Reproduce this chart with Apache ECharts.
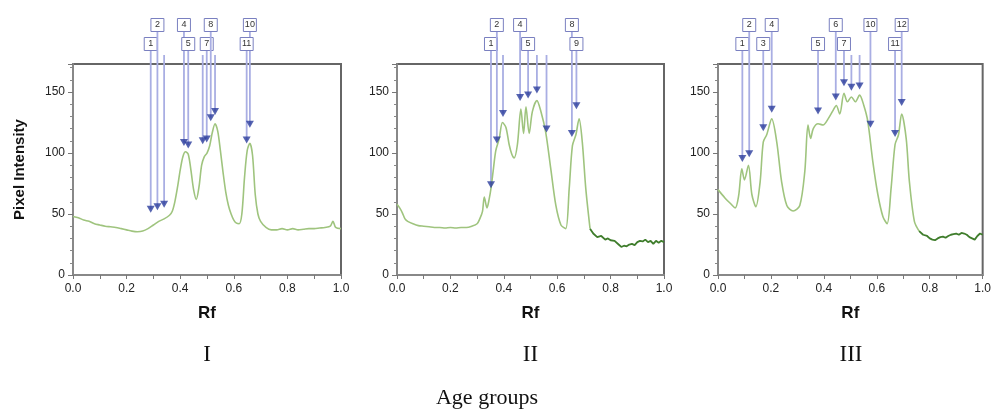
<!DOCTYPE html>
<html>
<head>
<meta charset="utf-8">
<script src="https://cdn.jsdelivr.net/npm/echarts@6/dist/echarts.min.js"></script>
<style>
  html, body { margin: 0; padding: 0; background: #fff; }
  #chart { width: 994px; height: 410px; }
</style>
</head>
<body>
<div id="chart"></div>
<script>
// densitometry profiles
const rfI = [0, 0.02, 0.04, 0.06, 0.08, 0.10, 0.12, 0.14, 0.16, 0.18, 0.20, 0.22, 0.24, 0.26, 0.28, 0.30, 0.32, 0.34, 0.36, 0.37, 0.38, 0.39, 0.40, 0.41, 0.42, 0.43, 0.44, 0.45, 0.46, 0.47, 0.48, 0.49, 0.50, 0.51, 0.52, 0.53, 0.54, 0.55, 0.56, 0.57, 0.58, 0.59, 0.60, 0.61, 0.62, 0.63, 0.64, 0.65, 0.66, 0.67, 0.68, 0.69, 0.70, 0.72, 0.74, 0.76, 0.78, 0.80, 0.82, 0.84, 0.86, 0.88, 0.90, 0.92, 0.94, 0.96, 0.97, 0.98, 1.0];
const pixI = [48, 47, 45, 44, 42, 41, 40, 39.5, 39, 38, 37, 36, 35.5, 36, 38, 41, 44, 46, 49, 52, 60, 72, 86, 97, 101, 99, 86, 70, 62, 72, 90, 97, 100, 106, 117, 124, 118, 102, 84, 68, 57, 50, 45, 42.5, 42, 50, 80, 102, 108, 98, 66, 50, 44, 39, 37, 37, 38, 37, 38, 37, 37.5, 38, 38, 38.5, 39, 40, 44, 39, 38];

const rfII = [0, 0.01, 0.02, 0.03, 0.04, 0.06, 0.08, 0.10, 0.12, 0.14, 0.16, 0.18, 0.20, 0.22, 0.24, 0.26, 0.28, 0.30, 0.31, 0.32, 0.327, 0.337, 0.345, 0.352, 0.36, 0.37, 0.383, 0.395, 0.408, 0.42, 0.43, 0.439, 0.451, 0.464, 0.474, 0.483, 0.495, 0.507, 0.524, 0.539, 0.557, 0.576, 0.595, 0.614, 0.632, 0.645, 0.657, 0.67, 0.682, 0.694, 0.707, 0.723];
const pixII = [58, 55, 51, 46, 44, 42, 40.5, 40, 39.5, 39, 39, 38.5, 39, 38.5, 39, 39, 40, 42, 46, 52, 64, 55, 62, 71, 85, 102, 112, 125, 121, 107, 99, 96, 107, 136, 116, 138, 116, 134, 143, 134, 117, 87, 57, 41, 38, 71, 106, 115, 128, 109, 71, 38];
const rfTailII = [0.723, 0.735, 0.75, 0.765, 0.78, 0.79, 0.80, 0.815, 0.83, 0.84, 0.85, 0.86, 0.87, 0.88, 0.89, 0.90, 0.91, 0.92, 0.93, 0.94, 0.95, 0.96, 0.97, 0.98, 0.99, 1.0];
const pixTailII = [38, 34, 31, 32, 29, 30, 28.5, 28, 25, 23, 24, 23.5, 25, 25.5, 24.5, 27, 28, 27.5, 29, 27, 28, 25.5, 28, 26.5, 28, 27];

const rfIII = [0, 0.027, 0.05, 0.065, 0.078, 0.09, 0.1, 0.115, 0.128, 0.143, 0.159, 0.171, 0.184, 0.203, 0.222, 0.24, 0.26, 0.284, 0.309, 0.328, 0.34, 0.35, 0.36, 0.378, 0.397, 0.416, 0.435, 0.447, 0.46, 0.476, 0.489, 0.504, 0.519, 0.535, 0.551, 0.566, 0.585, 0.604, 0.623, 0.639, 0.654, 0.669, 0.682, 0.694, 0.711, 0.723, 0.742, 0.76];
const pixIII = [70, 63, 58, 55, 65, 87, 78, 90, 66, 56, 76, 109, 115, 128, 109, 77, 57, 52.5, 57, 85, 123, 112, 120, 124, 123, 128, 135, 139, 132, 149, 142, 146, 142, 147.5, 139, 126, 93, 66, 48, 42, 71, 107, 115, 132, 112, 77, 44, 36];
const rfTailIII = [0.76, 0.775, 0.79, 0.80, 0.81, 0.82, 0.83, 0.84, 0.85, 0.86, 0.87, 0.88, 0.89, 0.90, 0.91, 0.92, 0.93, 0.94, 0.95, 0.96, 0.97, 0.98, 0.99, 1.0];
const pixTailIII = [36, 33, 32, 30, 29, 28.5, 30, 31, 31.5, 30.5, 32, 33, 33.5, 34, 33, 34.5, 34, 33, 31, 30, 29, 32, 34, 33];

// detected bands: Rf, intensity, label row (1 top, 2 lower, 0 hidden)
const bandRfI = [0.29, 0.315, 0.34, 0.414, 0.43, 0.484, 0.499, 0.514, 0.53, 0.66, 0.648];
const bandPixI = [54, 56, 58, 108.7, 106.6, 110, 111.5, 129, 134, 123.5, 110.6];
const bandRowI = [2, 1, 0, 1, 2, 0, 2, 1, 0, 1, 2];

const bandRfII = [0.352, 0.374, 0.397, 0.461, 0.491, 0.524, 0.56, 0.655, 0.672];
const bandPixII = [74, 110.6, 132.5, 145.6, 147.5, 151.6, 119.7, 116, 138.8];
const bandRowII = [2, 1, 0, 1, 2, 0, 0, 1, 2];

const bandRfIII = [0.092, 0.118, 0.171, 0.203, 0.378, 0.445, 0.476, 0.504, 0.535, 0.576, 0.669, 0.694];
const bandPixIII = [95.6, 99.4, 120.8, 136, 134.4, 145.9, 157.6, 154, 155, 123.5, 116, 141.5];
const bandRowIII = [2, 1, 2, 1, 2, 1, 2, 0, 0, 1, 2, 1];

const xTicks = [0, 0.2, 0.4, 0.6, 0.8, 1.0];
const yTicks = [0, 50, 100, 150];
const groups = ["I", "II", "III"];

const zip = (a, b) => a.map((v, i) => [v, b[i]]);
const SANS = "Liberation Sans, Arial, sans-serif";
const SERIF = "Liberation Serif, Times New Roman, serif";

const chart = echarts.init(document.getElementById("chart"));

const gridLefts = [73, 397, 718];
const gridWidths = [268, 267, 266];

const profiles = [
  { main: zip(rfI, pixI), tail: null, rf: bandRfI, pix: bandPixI, row: bandRowI },
  { main: zip(rfII, pixII), tail: zip(rfTailII, pixTailII), rf: bandRfII, pix: bandPixII, row: bandRowII },
  { main: zip(rfIII, pixIII), tail: zip(rfTailIII, pixTailIII), rf: bandRfIII, pix: bandPixIII, row: bandRowIII }
];

// vertical lead line + numbered box for each band
function renderBand(params, api) {
  const p = api.coord([api.value(0), api.value(1)]);
  const row = api.value(2);
  const num = api.value(3);
  const y0 = row === 1 ? 32 : row === 2 ? 51 : 55;
  const kids = [
    {
      type: "line",
      shape: { x1: p[0], y1: y0, x2: p[0], y2: p[1] },
      style: { stroke: "#a9aee3", lineWidth: 1.8 }
    }
  ];
  if (row) {
    const cy = row === 1 ? 25 : 44;
    kids.push({
      type: "rect",
      shape: { x: p[0] - 6.5, y: cy - 6.5, width: 13, height: 13 },
      style: { fill: "#fff", stroke: "#7a80c0", lineWidth: 1 }
    });
    kids.push({
      type: "text",
      style: {
        text: String(num), x: p[0], y: cy, align: "center", verticalAlign: "middle",
        fontSize: 9, fontFamily: SANS, fill: "#333"
      }
    });
  }
  return { type: "group", children: kids };
}

const grids = [], xAxes = [], yAxes = [], series = [];
profiles.forEach((pr, i) => {
  grids.push({
    left: gridLefts[i], width: gridWidths[i], top: 64, height: 211,
    show: true, borderColor: "#666", borderWidth: 2, backgroundColor: "transparent"
  });
  xAxes.push({
    type: "value", gridIndex: i, min: 0, max: 1, interval: 0.2,
    name: "Rf", nameLocation: "middle", nameGap: 30,
    nameTextStyle: { fontFamily: SANS, fontWeight: "bold", fontSize: 17, color: "#111" },
    axisLine: { show: true, lineStyle: { color: "#888", width: 2 } },
    axisTick: { show: true, length: 4, lineStyle: { color: "#777" } },
    minorTick: { show: true, splitNumber: 2, length: 4, lineStyle: { color: "#777" } },
    splitLine: { show: false },
    axisLabel: {
      fontFamily: SANS, fontSize: 12, color: "#222", margin: 8,
      formatter: v => (xTicks.indexOf(+v.toFixed(1)) >= 0 ? v.toFixed(1) : "")
    }
  });
  yAxes.push({
    type: "value", gridIndex: i, min: 0, max: 173, interval: 50,
    name: i === 0 ? "Pixel Intensity" : "", nameLocation: "middle", nameGap: 46,
    nameTextStyle: { fontFamily: SANS, fontWeight: "bold", fontSize: 15, color: "#111" },
    axisLine: { show: true, lineStyle: { color: "#888", width: 2 } },
    axisTick: { show: true, length: 5, lineStyle: { color: "#777" } },
    minorTick: { show: true, splitNumber: 5, length: 3, lineStyle: { color: "#888" } },
    splitLine: { show: false },
    axisLabel: {
      fontFamily: SANS, fontSize: 12, color: "#222", margin: 8,
      formatter: v => (yTicks.indexOf(v) >= 0 ? String(v) : "")
    }
  });
  series.push({
    type: "line", xAxisIndex: i, yAxisIndex: i, data: pr.main,
    showSymbol: false, smooth: 0.3,
    lineStyle: { color: "#9fc47e", width: 1.6 }
  });
  if (pr.tail) {
    series.push({
      type: "line", xAxisIndex: i, yAxisIndex: i, data: pr.tail,
      showSymbol: false,
      lineStyle: { color: "#3f7d2c", width: 1.8 }
    });
  }
  series.push({
    type: "custom", xAxisIndex: i, yAxisIndex: i, clip: false, z: 3,
    renderItem: renderBand,
    data: pr.rf.map((r, k) => [r, pr.pix[k], pr.row[k], k + 1])
  });
  series.push({
    type: "scatter", xAxisIndex: i, yAxisIndex: i, z: 4,
    symbol: "triangle", symbolRotate: 180, symbolSize: [8, 7],
    itemStyle: { color: "#2b3c9c" },
    data: zip(pr.rf, pr.pix)
  });
});

const option = {
  backgroundColor: "#fff",
  animation: false,
  grid: grids,
  xAxis: xAxes,
  yAxis: yAxes,
  series: series,
  graphic: [
    ...groups.map((g, i) => ({
      type: "text", x: gridLefts[i] + gridWidths[i] / 2, y: 355,
      style: { text: g, align: "center", verticalAlign: "middle", fontFamily: SERIF, fontSize: 23, fill: "#111" }
    })),
    {
      type: "text", x: 487, y: 398,
      style: { text: "Age groups", align: "center", verticalAlign: "middle", fontFamily: SERIF, fontSize: 22, fill: "#111" }
    }
  ]
};

chart.setOption(option);
</script>
</body>
</html>
